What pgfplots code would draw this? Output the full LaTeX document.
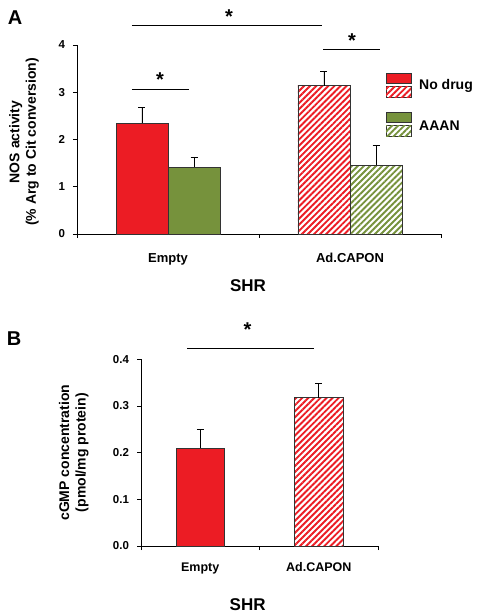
\documentclass[border=0pt]{standalone}
\usepackage{fontspec}
\setmainfont{Liberation Sans}
\usepackage{pgfplots}
\pgfplotsset{compat=1.18}
\usetikzlibrary{patterns.meta}
\definecolor{cred}{HTML}{EC1C24}
\definecolor{cgreen}{HTML}{76923C}
\definecolor{cedge}{HTML}{333333}
\tikzset{
  hatchred/.style={fill=white, draw=cedge, line width=0.7bp, postaction={pattern={Lines[angle=45,distance=4.3bp,line width=1.9bp]}, pattern color=cred}},
  hatchgreen/.style={fill=white, draw=cedge, line width=0.7bp, postaction={pattern={Lines[angle=45,distance=4.3bp,line width=1.9bp]}, pattern color=cgreen}},
  solidred/.style={fill=cred, draw=cedge, line width=0.7bp},
  solidgreen/.style={fill=cgreen, draw=cedge, line width=0.7bp},
  star/.style={font=\fontsize{20bp}{22bp}\selectfont\bfseries, inner sep=0pt, anchor=north},
}
\pgfplotsset{
  panel/.style={
    scale only axis,
    axis x line*=bottom, axis y line*=left,
    axis line style={black, line width=0.8bp},
    tick align=outside, major tick length=4bp,
    tick style={black, line width=0.8bp},
    xmin=0, xmax=2, ymin=0,
    xtick={0,1,2}, xticklabels={,,},
    extra x ticks={0.5,1.5},
    extra x tick labels={Empty,Ad.CAPON},
    yticklabel style={font=\fontsize{11.5bp}{13bp}\selectfont\bfseries, xshift=-4.5bp},
    /pgf/number format/assume math mode=true,
    ylabel style={anchor=center, align=center, font=\fontsize{14bp}{16.5bp}\selectfont\bfseries},
    xlabel style={anchor=center, font=\fontsize{17bp}{20bp}\selectfont\bfseries},
    clip=false,
  },
  ebar/.style={error bars/.cd, y dir=plus, y explicit,
    error bar style={black, line width=0.8bp},
    error mark options={rotate=90, mark size=3.5bp, black, line width=0.8bp}},
}
\begin{document}
\begin{tikzpicture}
\useasboundingbox (0,0) rectangle (480bp,615bp);
\node[font=\fontsize{20bp}{22bp}\selectfont\bfseries] at (15bp,597bp) {A};
\node[font=\fontsize{20bp}{22bp}\selectfont\bfseries] at (14bp,276bp) {B};

% Panel A
\begin{axis}[panel, at={(77bp,381bp)}, anchor=south west,
  width=364bp, height=189bp, ymax=4, ytick={0,1,2,3,4},
  extra x tick style={major tick length=0pt, tick label style={font=\fontsize{13bp}{15bp}\selectfont\bfseries, yshift=-16bp}},
  ylabel={NOS activity\\(\% Arg to Cit conversion)},
  ylabel style={at={(axis description cs:-0.1456,0.487)}},
  xlabel={SHR},
  xlabel style={at={(axis description cs:0.47,-0.275)}},
]
\addplot[ybar, bar width=0.2857, bar shift=0, solidred, ebar]
  coordinates {(0.357,2.34) +- (0,0.34)};
\addplot[ybar, bar width=0.2857, bar shift=0, solidgreen, ebar]
  coordinates {(0.643,1.42) +- (0,0.21)};
\addplot[ybar, bar width=0.2857, bar shift=0, hatchred, ebar]
  coordinates {(1.357,3.14) +- (0,0.31)};
\addplot[ybar, bar width=0.2857, bar shift=0, hatchgreen, ebar]
  coordinates {(1.643,1.45) +- (0,0.43)};
% significance
\draw[line width=0.8bp] (axis cs:0.302,4.42) -- (axis cs:1.346,4.42);
\node[star] at (axis cs:0.835,4.75) {*};
\draw[line width=0.8bp] (axis cs:1.352,3.91) -- (axis cs:1.665,3.91);
\node[star] at (axis cs:1.511,4.24) {*};
\draw[line width=0.8bp] (axis cs:0.302,3.07) -- (axis cs:0.615,3.07);
\node[star] at (axis cs:0.456,3.42) {*};
% legend
\path[solidred] (axis cs:1.698,3.192) rectangle (axis cs:1.835,3.404);
\path[hatchred] (axis cs:1.698,2.896) rectangle (axis cs:1.835,3.129);
\path[solidgreen] (axis cs:1.698,2.368) rectangle (axis cs:1.835,2.579);
\path[hatchgreen] (axis cs:1.698,2.072) rectangle (axis cs:1.835,2.304);
\node[anchor=west, inner sep=0pt, font=\fontsize{14bp}{16bp}\selectfont\bfseries] at (axis cs:1.879,3.13) {No drug};
\node[anchor=west, inner sep=0pt, font=\fontsize{14bp}{16bp}\selectfont\bfseries] at (axis cs:1.879,2.30) {AAAN};
\end{axis}

% Panel B
\begin{axis}[panel, at={(141bp,69bp)}, anchor=south west,
  width=237bp, height=186.7bp, ymax=0.4, ytick={0,0.1,0.2,0.3,0.4},
  extra x tick style={major tick length=0pt, tick label style={font=\fontsize{12.5bp}{14bp}\selectfont\bfseries, yshift=-13bp}},
  yticklabel style={/pgf/number format/.cd, fixed, fixed zerofill, precision=1},
  ylabel={cGMP concentration\\(pmol/mg protein)},
  ylabel style={at={(axis description cs:-0.284,0.5)}},
  xlabel={SHR},
  xlabel style={at={(axis description cs:0.45,-0.314)}},
]
\addplot[ybar, bar width=0.41, bar shift=0, solidred, ebar]
  coordinates {(0.5,0.210) +- (0,0.040)};
\addplot[ybar, bar width=0.41, bar shift=0, hatchred, ebar]
  coordinates {(1.5,0.318) +- (0,0.030)};
\draw[line width=0.8bp] (axis cs:0.39,0.4233) -- (axis cs:1.458,0.4233);
\node[star] at (axis cs:0.898,0.478) {*};
\end{axis}
\end{tikzpicture}
\end{document}
